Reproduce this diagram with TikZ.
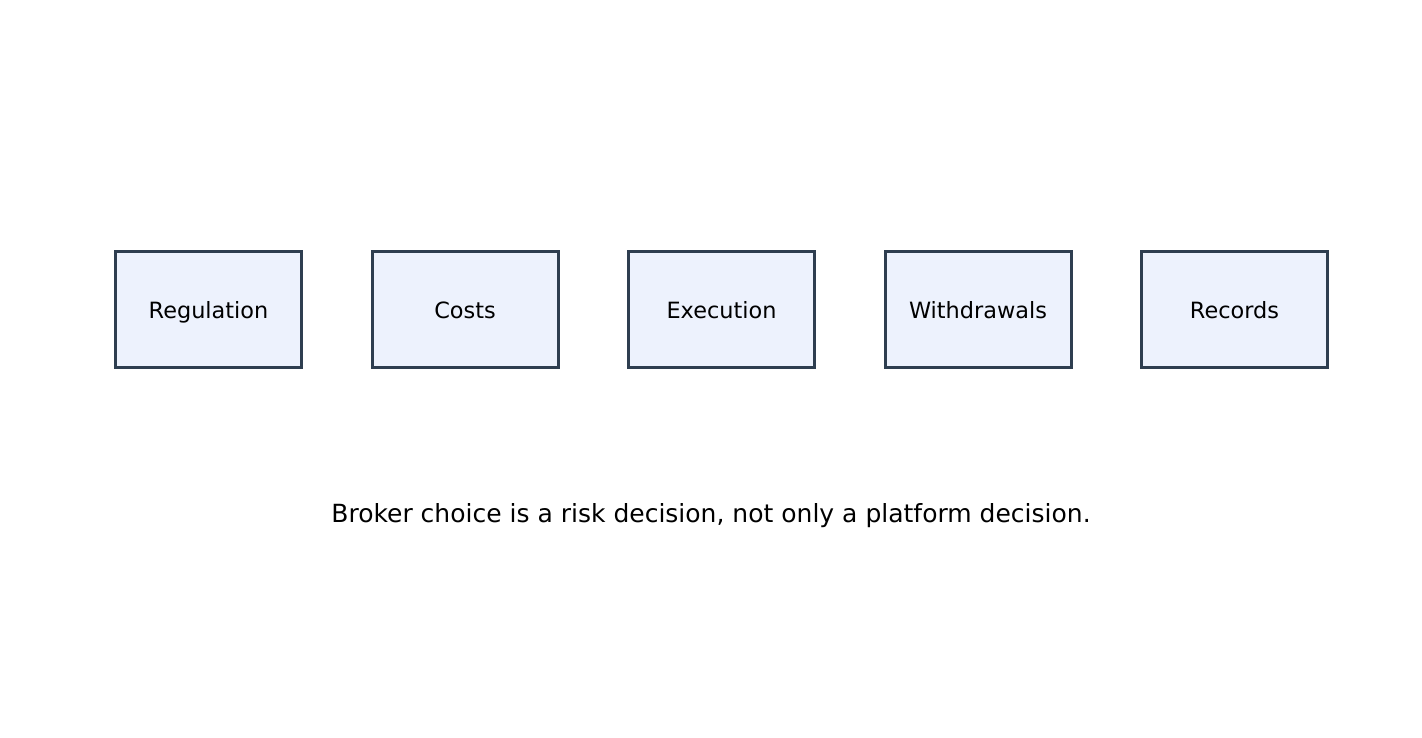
\documentclass[tikz,border=0pt]{standalone}
\usepackage{fontspec}
\setmainfont{DejaVu Sans}
\usepackage{tikz}
\usetikzlibrary{positioning}
\usepackage{xcolor}
\definecolor{boxline}{RGB}{46,62,80}
\definecolor{boxfill}{RGB}{237,242,253}

\begin{document}
\begin{tikzpicture}[
    x=1pt,y=1pt,
    node distance=67.5pt,
    factor/.style={rectangle,draw=boxline,fill=boxfill,line width=3pt,minimum width=186pt,minimum height=116pt,text height=18pt,text depth=0pt,text centered,font=\fontsize{22.4}{26}\selectfont},
    caption/.style={font=\fontsize{25}{30}\selectfont}
]
\useasboundingbox (0,0) rectangle (1422,737);
\node[factor] (f1) at (208.5,427.5) {Regulation};
\node[factor,right=of f1] (f2) {Costs};
\node[factor,right=of f2] (f3) {Execution};
\node[factor,right=of f3] (f4) {Withdrawals};
\node[factor,right=of f4] (f5) {Records};
\node[caption] (note) at (711,221) {Broker choice is a risk decision, not only a platform decision.};
\end{tikzpicture}
\end{document}
